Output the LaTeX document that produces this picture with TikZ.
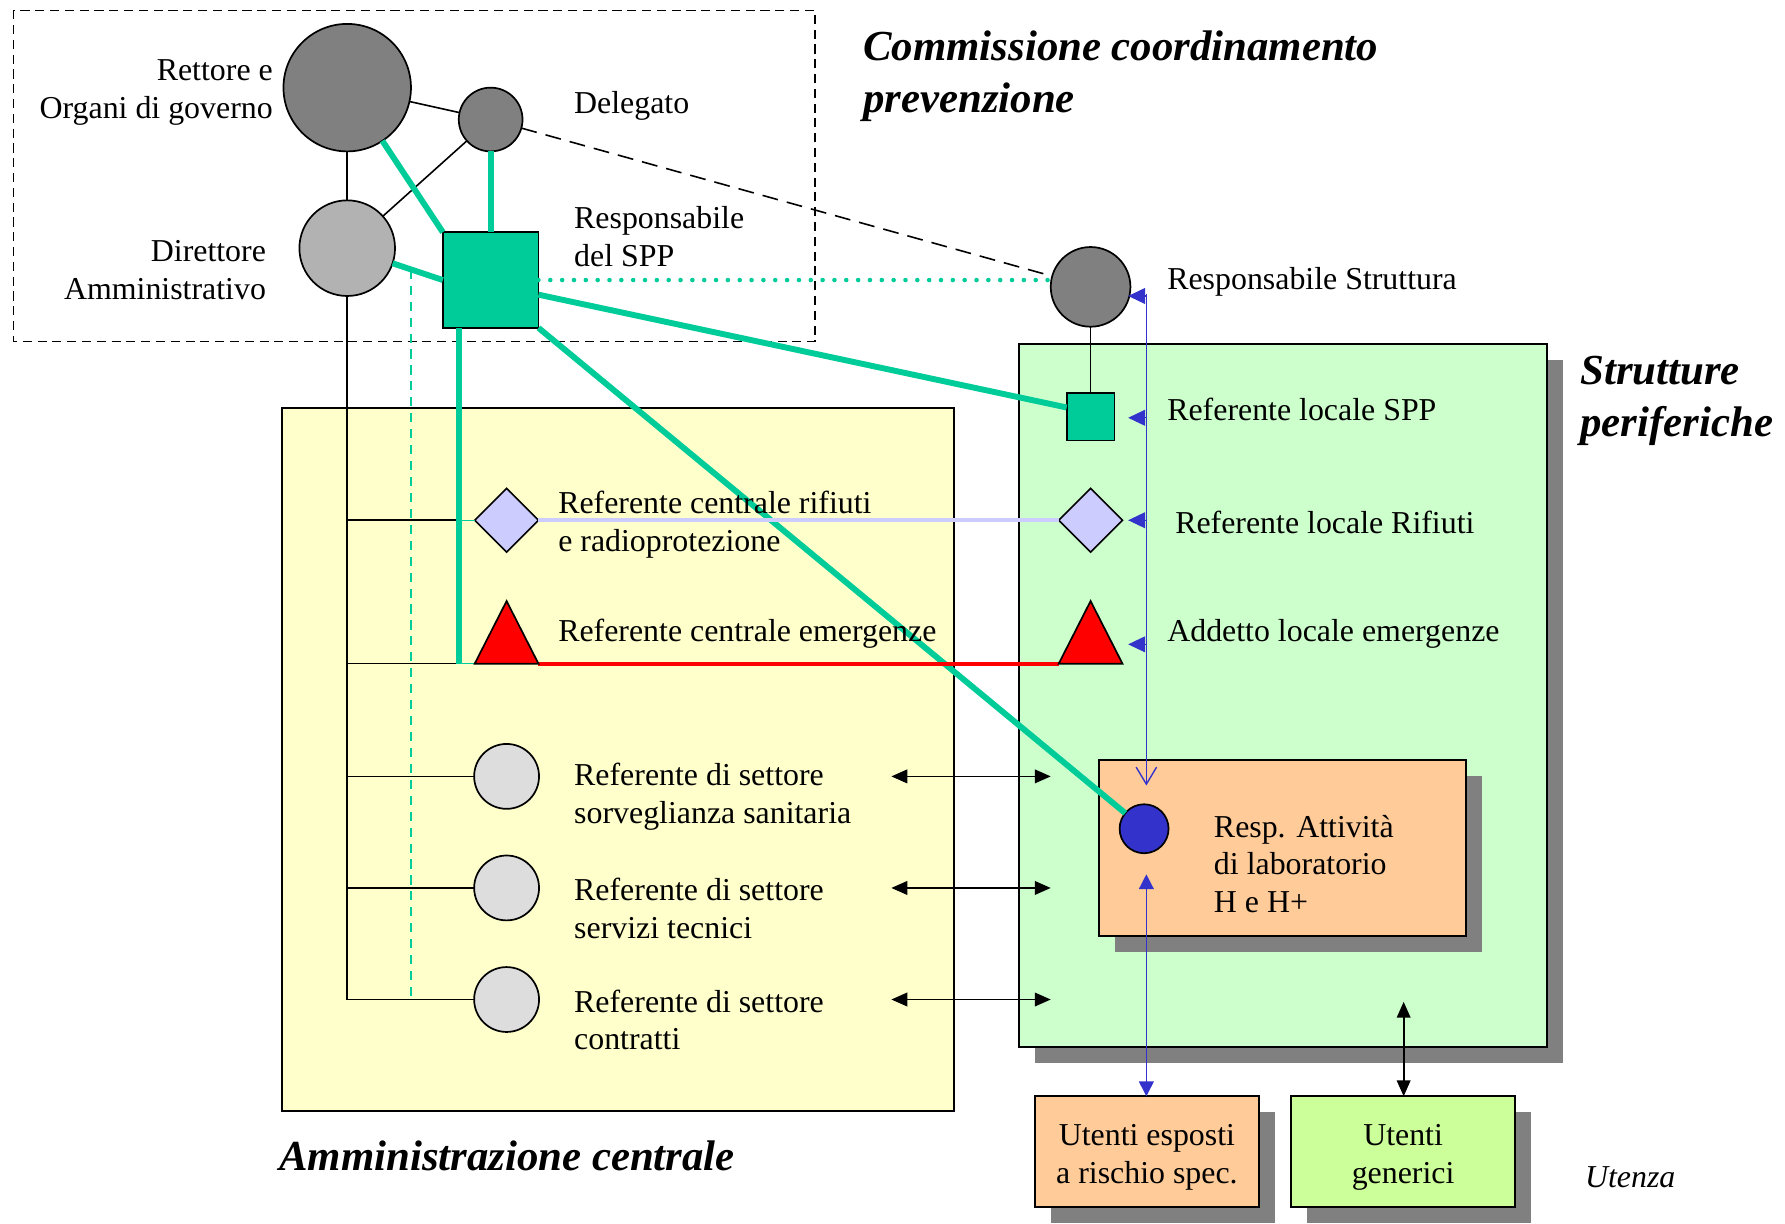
\documentclass[tikz,border=0pt]{standalone}
\usepackage{fontspec}
\setmainfont{Liberation Serif}
\usetikzlibrary{shapes.geometric,arrows.meta,shadows}

\definecolor{sppgreen}{HTML}{00CC99}
\definecolor{darkgrey}{HTML}{808080}
\definecolor{midgrey}{HTML}{B2B2B2}
\definecolor{lightgrey}{HTML}{DDDDDD}
\definecolor{paleyellow}{HTML}{FFFFCC}
\definecolor{palegreen}{HTML}{CCFFCC}
\definecolor{lavender}{HTML}{CCCCFF}
\definecolor{peach}{HTML}{FFCC99}
\definecolor{royal}{HTML}{3333CC}
\definecolor{limegreen}{HTML}{CCFF99}
\definecolor{shadowc}{HTML}{808080}

\begin{document}
\begin{tikzpicture}[x=0.5pt,y=-0.5pt,
  figure/.style={draw=black,line width=0.75pt,inner sep=0pt,outer sep=0pt},
  disc/.style={figure,circle,minimum size=#1},
  square/.style={figure,rectangle,fill=sppgreen,minimum width=#1,minimum height=#1},
  rhomb/.style={figure,diamond,fill=lavender,minimum width=28pt,minimum height=28pt},
  panel/.style={figure,rectangle,line width=0.9pt},
  shadowed/.style={drop shadow={shadow xshift=7pt,shadow yshift=-7pt,fill=shadowc,opacity=1}},
  link/.style={black,line width=0.7pt},
  spplink/.style={sppgreen,line width=2.6pt},
  sppthin/.style={sppgreen,line width=0.65pt},
  bluelink/.style={royal,line width=0.6pt},
  pointer/.style={royal,line width=0.6pt,-{Triangle[length=7.5pt,width=7pt]}},
  twoway/.style={black,line width=0.75pt,{Triangle[length=7pt,width=6pt]}-{Triangle[length=7pt,width=6pt]}},
  lbl/.style={font=\fontsize{14}{16.6}\selectfont,align=left,anchor=west,inner sep=0pt},
  rlbl/.style={lbl,align=right,anchor=east},
  clbl/.style={lbl,align=center,anchor=center},
  heading/.style={font=\fontsize{18.8}{22.8}\selectfont\bfseries\itshape,align=left,anchor=west,inner sep=0pt}
]
\useasboundingbox (0,0) rectangle (1568,1075);

% ---------- panels ----------
\draw[black,line width=0.65pt,dash pattern=on 4pt off 2.5pt] (12,9) rectangle (716,300);
\node[panel,fill=paleyellow,minimum width=295pt,minimum height=309pt] (amm) at (543,667) {};
\node[panel,fill=palegreen,shadowed,minimum width=232pt,minimum height=309pt] (strut) at (1127,611) {};
\node[panel,fill=peach,shadowed,minimum width=161.5pt,minimum height=77pt] (lab) at (1126.5,745) {};
\node[panel,fill=peach,shadowed,minimum width=98.5pt,minimum height=48.5pt] (uesp) at (1007.5,1011.5) {};
\node[panel,fill=limegreen,shadowed,minimum width=98.5pt,minimum height=48.5pt] (ugen) at (1232.5,1011.5) {};

% ---------- shapes ----------
\node[disc=56pt,fill=darkgrey] (rettore) at (305,77) {};
\node[disc=28pt,fill=darkgrey] (delegato) at (431,105) {};
\node[disc=42pt,fill=midgrey] (direttore) at (305,218) {};
\node[square=42pt] (spp) at (431,246) {};
\node[disc=35pt,fill=darkgrey] (rstr) at (958,252) {};
\node[square=21pt] (lspp) at (958,366) {};
\node[rhomb] (diaC) at (445,457) {};
\node[rhomb] (diaL) at (958,457) {};
\node[disc=28.5pt,fill=lightgrey] (sorv) at (445,682) {};
\node[disc=28.5pt,fill=lightgrey] (serv) at (445,780) {};
\node[disc=28.5pt,fill=lightgrey] (contr) at (445,878) {};
\node[disc=21.5pt,fill=royal] (labc) at (1005,728) {};

% emergency triangles (base corners and apex)
\coordinate (triCl) at (417,583); \coordinate (triCr) at (473,583); \coordinate (triCa) at (445,528);
\coordinate (triLl) at (930,583); \coordinate (triLr) at (986,583); \coordinate (triLa) at (958,528);

% ---------- junctions ----------
\coordinate (jR) at (403,457);
\coordinate (jE) at (403,583);
\coordinate (t1) at (305,457);
\coordinate (t2) at (305,583);
\coordinate (t3) at (305,682);
\coordinate (t4) at (305,780);
\coordinate (t5) at (305,878);
\coordinate (dgTop) at (361,237);
\coordinate (dgBot) at (361,878);

% ---------- connectors ----------
% governance links
\draw[link] (rettore) -- (delegato);
\draw[link] (rettore) -- (direttore);
\draw[link] (delegato) -- (direttore);
\draw[link,dash pattern=on 7pt off 4pt] (delegato) -- (rstr);
\draw[link] (rstr) -- (lspp);

% central administration trunk
\draw[link] (direttore) -- (t5);
\draw[link] (t1) -- (jR);
\draw[link] (t2) -- (jE);
\draw[link] (t3) -- (sorv);
\draw[link] (t4) -- (serv);
\draw[link] (t5) -- (contr);
\draw[sppthin,dash pattern=on 4pt off 3pt] (dgTop) -- (dgBot);

% prevention service links
\draw[spplink] (rettore) -- (spp.north west);
\draw[spplink] (delegato) -- (spp);
\draw[spplink] (direttore) -- (spp.west);
\draw[spplink] (spp.-17) -- (lspp.159);
\draw[spplink] (spp.south east) -- (labc);
\draw[spplink] (jE |- spp.south) -- (jE);
\draw[sppthin] (jR) -- (diaC.west);
\draw[sppthin] (jE) -- (triCl);
\draw[sppgreen,line width=2pt,line cap=round,dash pattern=on 0pt off 5.2pt] (spp.east) -- (spp.east -| rstr.west);

% waste and emergency links
\draw[lavender,line width=1.6pt] (diaC.east) -- (diaL.west);
\draw[red,line width=1.6pt] (triCr) -- (triLl);

% triangles drawn over their links
\draw[figure,fill=red] (triCl) -- (triCa) -- (triCr) -- cycle;
\draw[figure,fill=red] (triLl) -- (triLa) -- (triLr) -- cycle;

% local structure line with pointers
\coordinate (bTop) at (1007,258);
\coordinate (bBot) at (1007,690);
\draw[bluelink,-{Straight Barb[length=7.5pt,width=9pt]}] (bTop) -- (bBot);
\coordinate (p1) at (1007,260);
\coordinate (p2) at (1007,367);
\coordinate (p3) at (1007,457);
\coordinate (p4) at (1007,566);
\draw[pointer] (p1) -- ++(-16,0);
\draw[pointer] (p2) -- ++(-16,0);
\draw[pointer] (p3) -- ++(-16,0);
\draw[pointer] (p4) -- ++(-16,0);
\coordinate (labDown) at (1007,768);
\draw[royal,line width=0.6pt,{Triangle[length=6.5pt,width=6.5pt]}-{Triangle[length=6.5pt,width=6.5pt]}] (labDown) -- (labDown |- uesp.north);

% exchanges between central and local
\coordinate (a1l) at (783,682); \coordinate (a1r) at (923,682);
\coordinate (a2l) at (783,780); \coordinate (a2r) at (923,780);
\coordinate (a3l) at (783,878); \coordinate (a3r) at (923,878);
\draw[twoway] (a1l) -- (a1r);
\draw[twoway] (a2l) -- (a2r);
\draw[twoway] (a3l) -- (a3r);
\coordinate (genUp) at (1233,880);
\draw[twoway] (genUp) -- (genUp |- ugen.north);

% ---------- labels ----------
\node[rlbl] (tRettore) at (240,81) {Rettore e\\Organi di governo};
\node[rlbl] (tDirettore) at (234,237) {Direttore\\Amministrativo};
\node[lbl] (tDelegato) at (504,93) {Delegato};
\node[lbl] (tSpp) at (504,208) {Responsabile\\del SPP};
\node[lbl] (tRstr) at (1025,248) {Responsabile Struttura};
\node[lbl] (tLspp) at (1025,360) {Referente locale SPP};
\node[lbl] (tLrif) at (1032,459) {Referente locale Rifiuti};
\node[lbl] (tLem) at (1025,557) {Addetto locale emergenze};
\node[lbl] (tCrif) at (490,461) {Referente centrale rifiuti\\e radioprotezione};
\node[lbl] (tCem) at (490,557) {Referente centrale emergenze};
\node[lbl] (tSorv) at (504,700) {Referente di settore\\sorveglianza sanitaria};
\node[lbl] (tServ) at (504,798) {Referente di settore\\servizi tecnici};
\node[lbl] (tContr) at (504,896) {Referente di settore\\contratti};
\node[lbl] (tLab) at (1066,759) {Resp. Attività\\di laboratorio\\H e H+};
\node[clbl] (tUesp) at ([yshift=-2.5pt]uesp.center) {Utenti esposti\\a rischio spec.};
\node[clbl] (tUgen) at ([yshift=-2.5pt]ugen.center) {Utenti\\generici};
\node[lbl,font=\fontsize{14}{16.6}\selectfont\itshape] (tUtenza) at (1392,1034) {Utenza};

\node[heading] (hComm) at (758,67) {Commissione coordinamento\\prevenzione};
\node[heading] (hStrut) at (1388,352) {Strutture\\periferiche};
\node[heading] (hAmm) at (245,1015) {Amministrazione centrale};
\end{tikzpicture}
\end{document}
